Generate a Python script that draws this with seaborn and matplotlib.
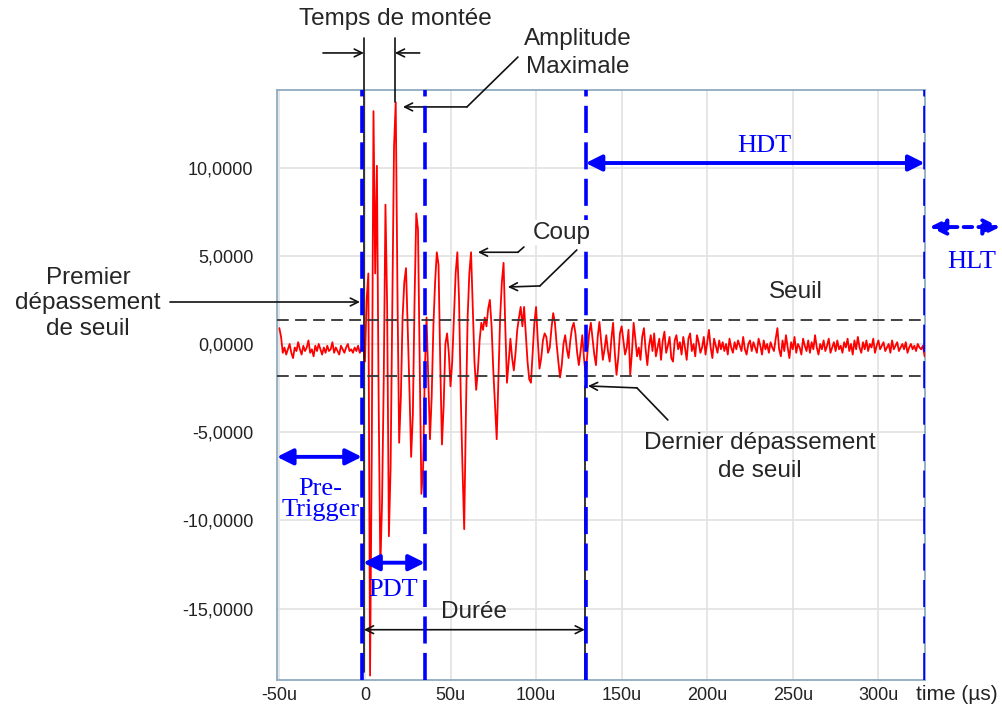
import numpy as np
import pandas as pd
import matplotlib
matplotlib.use("Agg")
import matplotlib.pyplot as plt
import seaborn as sns

# ---------------- acoustic emission hit, 1 sample per µs from -50 µs ----------------
t_start = -50
pre_trigger = [0.9, 0.4, -0.5, -0.2, -0.6, -0.3, 0.0, -0.5, -0.8, -0.2, -0.4, 0.1,
               -0.3, -0.6, -0.1, -0.4, -0.2, 0.2, -0.5, -0.3, -0.7, -0.1, -0.4, 0.0,
               -0.3, -0.6, -0.2, -0.5, -0.1, -0.4, -0.3, 0.1, -0.5, -0.2, -0.4, -0.6,
               -0.1, -0.3, -0.5, -0.2, 0.0, -0.4, -0.3, -0.5, -0.2, -0.4, -0.1, -0.5,
               -0.3]
burst = [0.3, -1.0, 2.5, 4.0, -18.8, -6.0, 13.2, 4.0, 10.1, -3.0, -12.7, -9.0,
         -2.0, 7.9, 2.0, -10.9, -7.0, 2.0, 11.2, 13.7, 3.0, -5.6, -3.0, 1.5,
         3.5, 4.3, 1.0, -2.5, -6.4, -4.0, 2.5, 7.4, 6.5, -1.0, -8.5, -7.0,
         -1.5, 1.5, -2.0, -5.4, -3.0, 1.0, 3.5, 5.2, 4.5, -1.0, -5.7, -3.5,
         0.0, 0.6, -0.5, -2.4, -1.0, 1.5, 4.0, 5.2, 2.5, -3.0, -7.0, -10.5,
         -4.0, 1.5, 4.0, 5.2, 2.0, -1.0, -2.6, -1.5, 0.2, 1.2, 0.8, 1.5,
         1.0, 2.0, 2.5, 1.0, -1.5, -3.5, -5.4, -2.0, 1.5, 3.5, 4.6, 1.0,
         -2.2, -1.0, 0.3, -0.8, -1.5, -0.5, 0.8, 1.5, 2.1, 1.0, 2.1, 0.5,
         -1.0, -2.0, -2.2, -0.5, 1.2, 2.1, 0.2, -1.4, -0.8, 0.2, 0.6, 0.4,
         -0.5, -0.2, 0.9, 1.75, 1.2, 0.0, -1.0, -1.9, -1.2, 0.0, 0.5, -0.3,
         -0.8, 0.2, 0.9, 1.2, 0.6, -0.5, -1.2, -0.4, 0.5, -0.8, -1.8, -0.5,
         0.6, 1.2, 0.3]
tail = [-0.6, -1.2, 0.4, 1.25, 0.2, -0.9, -0.3, 0.5, -0.4, -1.0, 0.3, 1.2,
        -0.5, -1.75, -0.8, 0.6, 1.0, 0.2, -0.6, -0.2, 0.8, -1.75, -0.5, 1.2,
        0.3, -0.7, -0.2,
        -0.9, 0.4, 0.9, -0.3, -1.2, -0.1, 0.5, -0.4, 0.6, -0.7, -0.2, 0.3,
        -0.9, 0.2, 0.7, -0.5, -0.1, 0.4, -0.8, -1.0, 0.2, 0.5, -0.3, 0.1,
        -0.6, 0.4, -0.2, -0.9, 0.3, 0.6, -0.4, 0.0, -0.7, 0.5, 0.1, -0.5,
        -0.2, 0.4, -0.6, 0.1,
        0.8, -0.2, -0.8, 0.3, -0.1, -0.5, 0.2, -0.3, 0.1, -0.4, 0.0, -0.6,
        0.3, -0.2, -0.5, 0.1, -0.3, 0.2, -0.1, -0.4, 0.4, -0.3, -0.6, 0.0,
        0.2, -0.4, 0.1, -0.2, -0.5, 0.3, -0.1, -0.6, 0.2, -0.3, 0.0, -0.5,
        0.1, -0.2, -0.4, 0.3,
        0.9, -0.3, -0.7, 0.2, -0.4, 0.5, -0.2, -0.8, 0.1, -0.3, 0.4, -0.5,
        0.0, -0.2, -0.6, 0.3, -0.1, -0.4, 0.2, -0.5, 0.1, -0.3, 0.5, -0.2,
        -0.6, 0.0, -0.3, 0.2, -0.4, -0.1, 0.3, -0.5, -0.2, 0.1, -0.4, 0.2,
        -0.3, -0.1, -0.5, 0.1,
        -0.2, 0.3, -0.4, 0.0, -0.6, 0.2, -0.3, 0.4, -0.2, -0.5, 0.1, -0.3,
        0.2, -0.4, 0.0, -0.2, 0.3, -0.5, -0.1, 0.2, -0.3, -0.1, 0.1, -0.4,
        -0.2, 0.0, -0.5, 0.2, -0.3, -0.1, 0.1, -0.4, -0.2, 0.0, -0.3, 0.1,
        -0.5, -0.2, 0.0, -0.3, -0.1, -0.4, 0.0, -0.2, -0.3, -0.1, -0.7]

signal = pre_trigger + burst + tail
time_us = np.arange(t_start, t_start + len(signal))
wave = pd.DataFrame({"time": time_us, "amplitude": signal})

# thresholds and timing parameters (µs)
threshold_high = 1.35
threshold_low = -1.8
trigger_time = -1.8
first_crossing = -0.6
last_crossing = 128.5
pdt_end = 35
hdt_start = 129
hdt_end = 327
hlt_end = 371

y_ticks = [10, 5, 0, -5, -10, -15]
y_tick_labels = ["10,0000", "5,0000", "0,0000", "-5,0000", "-10,0000", "-15,0000"]
x_ticks = [-50, 0, 50, 100, 150, 200, 250, 300]
x_tick_labels = ["-50u", "0", "50u", "100u", "150u", "200u", "250u", "300u"]

# ---------------- style ----------------
sns.set_style("white")
plt.rcParams["font.family"] = ["Liberation Sans", "DejaVu Sans"]
SANS = 17.5
SERIF = ["Liberation Serif", "DejaVu Serif"]
BLUE = "#0000ff"
LS = 1.32

fig = plt.figure(figsize=(10.02, 7.24), dpi=100)
ax = fig.add_axes([0.2764, 0.0608, 0.6467, 0.8149])

sns.lineplot(data=wave, x="time", y="amplitude", ax=ax, color="#ff0000",
             lw=1.3, estimator=None, zorder=3)

ax.set_xlim(-51.4, 327.2)
ax.set_ylim(-19.05, 14.4)
ax.set_xticks(x_ticks)
ax.set_xticklabels(x_tick_labels)
ax.set_yticks(y_ticks)
ax.set_yticklabels(y_tick_labels)
ax.set_xlabel("")
ax.set_ylabel("")
ax.grid(True, color="#e2e2e2", lw=1.2, zorder=0)
ax.set_axisbelow(True)
for sp in ax.spines.values():
    sp.set_color("#8eabbf")
    sp.set_linewidth(1.3)
ax.tick_params(axis="y", length=15, width=1.3, color="#222222", pad=2,
               labelsize=13, labelcolor="#222222")
ax.tick_params(axis="x", length=5, width=1.3, color="#222222", pad=0,
               labelsize=13, labelcolor="#222222")
ax.text(345.8, -19.35, "time (µs)", fontsize=15, color="#222222",
        ha="center", va="top", clip_on=False)

# threshold lines
for thr in (threshold_high, threshold_low):
    ax.axhline(thr, color="#333333", lw=1.3, dashes=(6.5, 3.5), zorder=4)

# timing markers
blue_kw = dict(color=BLUE, lw=2.6, dashes=(7.5, 2.6), zorder=6)
for tx in (trigger_time, pdt_end, hdt_start, hdt_end):
    ax.axvline(tx, **blue_kw)

black = "#111111"
peak_idx = int(np.argmax(signal))
peak_t, peak_v = time_us[peak_idx], signal[peak_idx]

# rise time
ax.plot([first_crossing, first_crossing], [17.35, -18.6], color=black, lw=1.2,
        zorder=5, clip_on=False)
ax.plot([peak_t - 0.5, peak_t - 0.5], [17.35, peak_v], color=black, lw=1.2,
        zorder=5, clip_on=False)
thin = dict(arrowstyle="->", color=black, lw=1.2, shrinkA=0, shrinkB=0,
            mutation_scale=14)
ax.annotate("", xy=(first_crossing, 16.5), xytext=(-24.5, 16.5),
            arrowprops=thin, annotation_clip=False)
ax.annotate("", xy=(peak_t - 0.5, 16.5), xytext=(32, 16.5),
            arrowprops=thin, annotation_clip=False)
ax.text(17.5, 18.4, "Temps de montée", fontsize=SANS, ha="center", va="center",
        clip_on=False)

# peak amplitude
ax.plot([89.4, 59.6], [16.27, 13.44], color=black, lw=1.2, clip_on=False, zorder=5)
ax.annotate("", xy=(22.2, 13.44), xytext=(59.6, 13.44), arrowprops=thin,
            annotation_clip=False)
ax.text(124.4, 16.5, "Amplitude\nMaximale", fontsize=SANS, ha="center",
        va="center", linespacing=LS, clip_on=False)

# first threshold crossing
ax.annotate("", xy=(-2.9, 2.38), xytext=(-113.9, 2.38), arrowprops=thin,
            annotation_clip=False)
ax.text(-161.8, 2.3, "Premier\ndépassement\nde seuil", fontsize=SANS,
        ha="center", va="center", linespacing=1.22, clip_on=False)

# counts
ax.text(115, 6.3, "Coup", fontsize=SANS, ha="center", va="center", zorder=7,
        bbox=dict(facecolor="white", edgecolor="none", pad=1))
ax.plot([92.9, 89.4], [5.5, 5.2], color=black, lw=1.2, zorder=5)
ax.annotate("", xy=(66.0, 5.2), xytext=(89.4, 5.2), arrowprops=thin)
ax.plot([123.8, 102.2], [5.33, 3.29], color=black, lw=1.2, zorder=5)
ax.annotate("", xy=(83.5, 3.23), xytext=(102.2, 3.29), arrowprops=thin)

# threshold label
ax.text(251.5, 2.95, "Seuil", fontsize=SANS, ha="center", va="center")

# last threshold crossing
ax.plot([177, 158.9], [-4.31, -2.49], color=black, lw=1.2, zorder=5)
ax.annotate("", xy=(130.3, -2.38), xytext=(158.9, -2.49), arrowprops=thin)
ax.text(230.7, -6.4, "Dernier dépassement\nde seuil", fontsize=SANS,
        ha="center", va="center", linespacing=LS)
ax.plot([last_crossing, last_crossing], [-2.4, -19.05], color=black, lw=1.2,
        zorder=5)

# duration
ax.annotate("", xy=(last_crossing, -16.2), xytext=(first_crossing, -16.2),
            arrowprops=dict(arrowstyle="<->", color=black, lw=1.2, shrinkA=0,
                            shrinkB=0, mutation_scale=14))
ax.text(64, -15.2, "Durée", fontsize=SANS, ha="center", va="center")

# blue timing arrows
thick = dict(arrowstyle="<|-|>", color=BLUE, lw=2.8, shrinkA=0, shrinkB=0,
             mutation_scale=24)
ax.annotate("", xy=(hdt_end, 10.26), xytext=(hdt_start, 10.26), arrowprops=thick,
            annotation_clip=False)
ax.text(233.6, 11.2, "HDT", fontsize=19, family=SERIF, color=BLUE,
        ha="center", va="center")

ax.annotate("", xy=(hlt_end, 6.63), xytext=(330, 6.63),
            arrowprops=dict(thick, linestyle=(0, (2.2, 1.6))),
            annotation_clip=False)
ax.text(354.6, 4.65, "HLT", fontsize=19, family=SERIF, color=BLUE,
        ha="center", va="center", clip_on=False)

ax.annotate("", xy=(trigger_time, -6.4), xytext=(-51.4, -6.4), arrowprops=thick,
            annotation_clip=False)
ax.text(-26, -8.8, "Pre-\nTrigger", fontsize=19, family=SERIF, color=BLUE,
        ha="center", va="center", linespacing=0.95)

ax.annotate("", xy=(pdt_end, -12.4), xytext=(first_crossing - 0.4, -12.4),
            arrowprops=thick, annotation_clip=False)
ax.text(16.4, -13.95, "PDT", fontsize=19, family=SERIF, color=BLUE,
        ha="center", va="center", zorder=7)

fig.savefig("out.png", dpi=100)
